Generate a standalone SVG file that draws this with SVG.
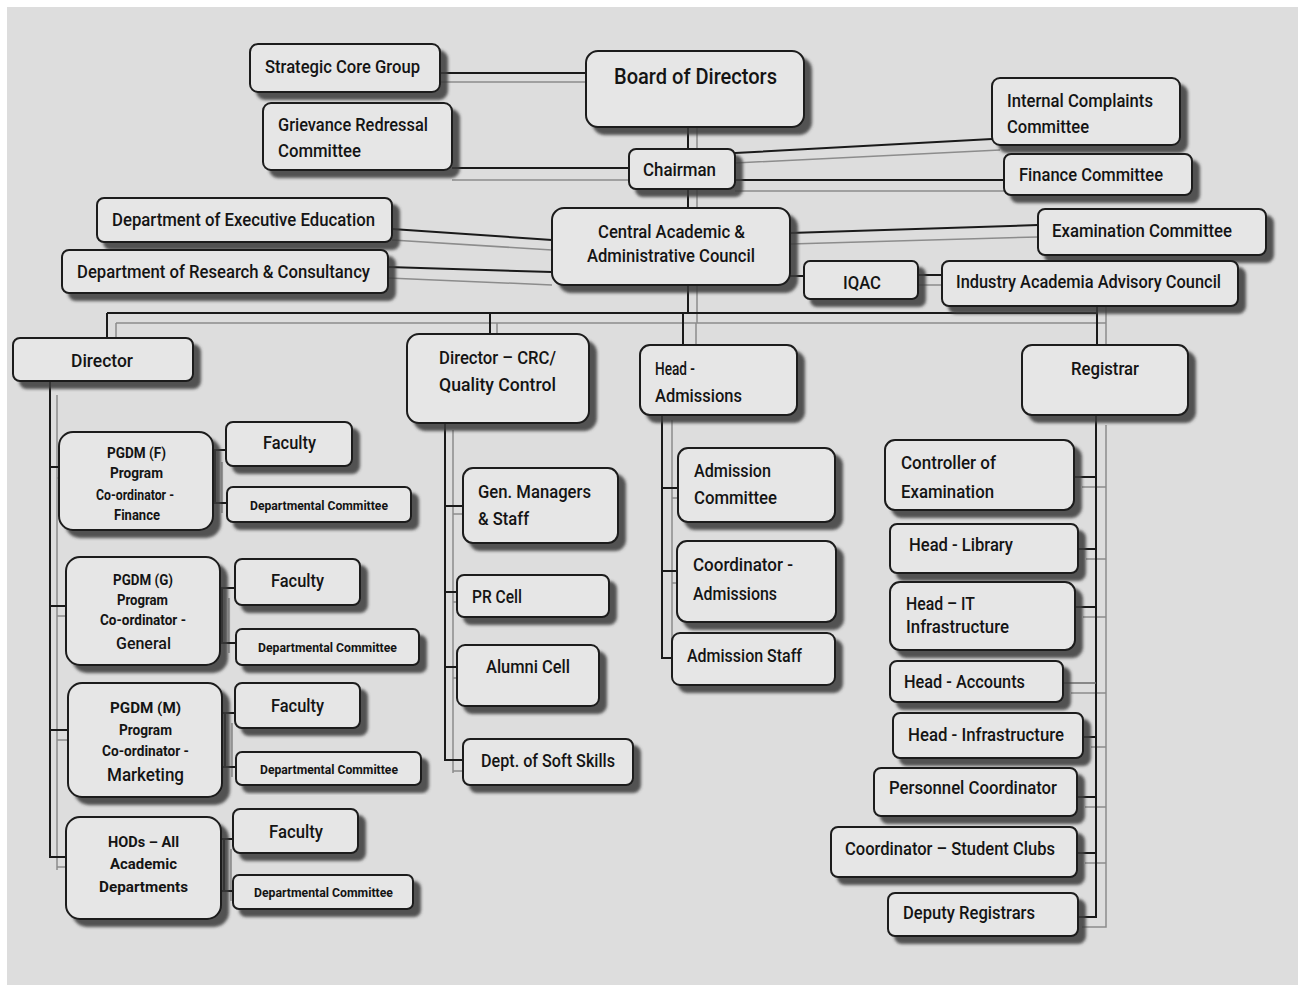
<svg xmlns="http://www.w3.org/2000/svg" width="1302" height="989" viewBox="0 0 1302 989">
<defs>
<filter id="sh" x="-10%" y="-10%" width="130%" height="140%">
<feDropShadow dx="7" dy="7" stdDeviation="1.8" flood-color="#3a3a3a" flood-opacity="0.85"/>
</filter>
<style>
.box{fill:#e6e6e6;stroke:#1c1c1c;stroke-width:2;filter:url(#sh)}
.t{font-family:Roboto,"Liberation Sans",sans-serif;font-size:18px;fill:#141414;font-weight:500}
.b{font-size:22px}
.s{font-size:14px;font-weight:700}
.d{font-size:13px;font-weight:700}
.ln{fill:none;stroke:#1a1a1a;stroke-width:2}
.gl{fill:none;stroke:#8c8c8c;stroke-width:1.5}
</style>
</defs>
<rect x="0" y="0" width="1302" height="989" fill="#ffffff"/>
<rect x="7" y="7" width="1291" height="978" fill="#dddddd"/>

<g id="connectors">
<path class="gl" d="M440,82 H586 M452,180 H629 M697,127 V149 M697,189 V208 M697,285 V323 M735,163 L1000,150 M735,191 H1004 M392,240 L552,250 M388,278 L552,285 M790,244 L1038,237 M918,285 H942"/>
<path class="gl" d="M116,323 H1106 M116,323 V338 M497,323 V345 M696,323 V355 M1106,306 V355"/>
<path class="gl" d="M57,395 V870 M57,478 H70 M57,616 H78 M57,740 H80 M57,867 H78"/>
<path class="gl" d="M453,430 V773 M453,514 H470 M453,602 H465 M453,678 H465 M453,771 H470"/>
<path class="gl" d="M672,420 V670 M672,498 H690 M672,583 H688 M672,670 H688"/>
<path class="gl" d="M1106,425 V927 H1082 M1082,487 H1106 M1086,559 H1106 M1083,617 H1106 M1071,693 H1106 M1091,747 H1106 M1085,807 H1106 M1085,863 H1106"/>
<path class="gl" d="M222,462 V513 M229,598 V653 M232,723 V777 M231,849 V901"/>

<path class="ln" d="M440,73 H586 M452,168 H629 M688,127 V149 M688,189 V208 M688,285 V313 M735,153 L992,139 M735,180 L1004,180 M392,229 L552,240 M388,267 L552,272 M790,233 L1038,225 M790,276 H804 M918,275 H942"/>
<path class="ln" d="M107,313 H1097 M107,313 V338 M490,313 V334 M683,313 V345 M1097,306 V345"/>
<path class="ln" d="M50,381 V857 H66 M50,467 H59 M50,606 H66 M50,730 H68"/>
<path class="ln" d="M215,450 V503 M213,450 H226 M213,503 H227 M222,588 V643 M220,588 H235 M220,643 H236 M225,713 V767 M222,713 H235 M222,767 H236 M224,839 V891 M221,839 H233 M221,891 H233"/>
<path class="ln" d="M445,423 V760 H463 M445,506 H463 M445,592 H457 M445,667 H457"/>
<path class="ln" d="M662,415 V658 H672 M662,488 H678 M662,571 H677"/>
<path class="ln" d="M1096,415 V917 H1078 M1074,477 H1096 M1078,549 H1096 M1075,607 H1096 M1083,737 H1096 M1077,797 H1096 M1077,853 H1096"/>
<path fill="none" stroke="#6a6a6a" stroke-width="1.5" d="M1063,683 H1096"/>
</g>

<g id="strategic-core-group"><rect class="box" x="250" y="44" width="190" height="48" rx="8"/><text class="t" x="265" y="73" textLength="155" lengthAdjust="spacingAndGlyphs">Strategic Core Group</text></g>
<g id="grievance-redressal-committee"><rect class="box" x="263" y="103" width="189" height="67" rx="8"/><text class="t" x="278" y="131" textLength="150" lengthAdjust="spacingAndGlyphs">Grievance Redressal</text><text class="t" x="278" y="157" textLength="83" lengthAdjust="spacingAndGlyphs">Committee</text></g>
<g id="board-of-directors"><rect class="box" x="586" y="51" width="218" height="76" rx="12"/><text class="t b" x="614" y="84" textLength="163" lengthAdjust="spacingAndGlyphs">Board of Directors</text></g>
<g id="chairman"><rect class="box" x="629" y="149" width="106" height="40" rx="7"/><text class="t" x="643" y="176" textLength="73" lengthAdjust="spacingAndGlyphs">Chairman</text></g>
<g id="central-council"><rect class="box" x="552" y="208" width="238" height="77" rx="12"/><text class="t" x="598" y="238" textLength="147" lengthAdjust="spacingAndGlyphs">Central Academic &amp;</text><text class="t" x="587" y="262" textLength="168" lengthAdjust="spacingAndGlyphs">Administrative Council</text></g>
<g id="dept-executive-education"><rect class="box" x="97" y="198" width="295" height="44" rx="7"/><text class="t" x="112" y="226" textLength="263" lengthAdjust="spacingAndGlyphs">Department of Executive Education</text></g>
<g id="dept-research-consultancy"><rect class="box" x="62" y="250" width="326" height="43" rx="7"/><text class="t" x="77" y="278" textLength="293" lengthAdjust="spacingAndGlyphs">Department of Research &amp; Consultancy</text></g>
<g id="iqac"><rect class="box" x="804" y="261" width="114" height="38" rx="6"/><text class="t" x="843" y="289" textLength="38" lengthAdjust="spacingAndGlyphs">IQAC</text></g>
<g id="internal-complaints-committee"><rect class="box" x="992" y="78" width="188" height="67" rx="8"/><text class="t" x="1007" y="107" textLength="146" lengthAdjust="spacingAndGlyphs">Internal Complaints</text><text class="t" x="1007" y="133" textLength="82" lengthAdjust="spacingAndGlyphs">Committee</text></g>
<g id="finance-committee"><rect class="box" x="1004" y="154" width="188" height="41" rx="7"/><text class="t" x="1019" y="181" textLength="144" lengthAdjust="spacingAndGlyphs">Finance Committee</text></g>
<g id="examination-committee"><rect class="box" x="1038" y="209" width="228" height="46" rx="7"/><text class="t" x="1052" y="237" textLength="180" lengthAdjust="spacingAndGlyphs">Examination Committee</text></g>
<g id="industry-academia-advisory-council"><rect class="box" x="942" y="261" width="296" height="45" rx="7"/><text class="t" x="956" y="288" textLength="265" lengthAdjust="spacingAndGlyphs">Industry Academia Advisory Council</text></g>

<g id="director"><rect class="box" x="13" y="338" width="180" height="43" rx="7"/><text class="t" x="71" y="367" textLength="62" lengthAdjust="spacingAndGlyphs">Director</text></g>
<g id="director-crc"><rect class="box" x="407" y="334" width="182" height="89" rx="12"/><text class="t" x="439" y="364" textLength="117" lengthAdjust="spacingAndGlyphs">Director – CRC/</text><text class="t" x="439" y="391" textLength="117" lengthAdjust="spacingAndGlyphs">Quality Control</text></g>
<g id="head-admissions"><rect class="box" x="640" y="345" width="157" height="70" rx="10"/><text class="t" x="655" y="375" textLength="40" lengthAdjust="spacingAndGlyphs">Head -</text><text class="t" x="655" y="402" textLength="87" lengthAdjust="spacingAndGlyphs">Admissions</text></g>
<g id="registrar"><rect class="box" x="1022" y="345" width="166" height="70" rx="10"/><text class="t" x="1071" y="375" textLength="68" lengthAdjust="spacingAndGlyphs">Registrar</text></g>

<g id="pgdm-f"><rect class="box" x="59" y="432" width="154" height="98" rx="14"/><text class="t s" x="107" y="458" textLength="59" lengthAdjust="spacingAndGlyphs">PGDM (F)</text><text class="t s" x="110" y="478" textLength="53" lengthAdjust="spacingAndGlyphs">Program</text><text class="t s" x="96" y="500" textLength="78" lengthAdjust="spacingAndGlyphs">Co-ordinator -</text><text class="t s" x="114" y="520" textLength="46" lengthAdjust="spacingAndGlyphs">Finance</text></g>
<g id="faculty-f"><rect class="box" x="226" y="422" width="126" height="44" rx="7"/><text class="t" x="263" y="449" textLength="53" lengthAdjust="spacingAndGlyphs">Faculty</text></g>
<g id="dept-committee-f"><rect class="box" x="227" y="487" width="184" height="35" rx="6"/><text class="t d" x="250" y="510" textLength="138" lengthAdjust="spacingAndGlyphs">Departmental Committee</text></g>

<g id="pgdm-g"><rect class="box" x="66" y="557" width="154" height="108" rx="14"/><text class="t s" x="113" y="585" textLength="60" lengthAdjust="spacingAndGlyphs">PGDM (G)</text><text class="t s" x="117" y="605" textLength="51" lengthAdjust="spacingAndGlyphs">Program</text><text class="t s" x="100" y="625" textLength="86" lengthAdjust="spacingAndGlyphs">Co-ordinator -</text><text class="t" style="font-size:16px" x="116" y="649" textLength="55" lengthAdjust="spacingAndGlyphs">General</text></g>
<g id="faculty-g"><rect class="box" x="235" y="559" width="125" height="46" rx="7"/><text class="t" x="271" y="587" textLength="53" lengthAdjust="spacingAndGlyphs">Faculty</text></g>
<g id="dept-committee-g"><rect class="box" x="236" y="629" width="183" height="36" rx="6"/><text class="t d" x="258" y="652" textLength="139" lengthAdjust="spacingAndGlyphs">Departmental Committee</text></g>

<g id="pgdm-m"><rect class="box" x="68" y="683" width="154" height="114" rx="14"/><text class="t s" x="110" y="713" textLength="71" lengthAdjust="spacingAndGlyphs">PGDM (M)</text><text class="t s" x="119" y="735" textLength="53" lengthAdjust="spacingAndGlyphs">Program</text><text class="t s" x="102" y="756" textLength="87" lengthAdjust="spacingAndGlyphs">Co-ordinator -</text><text class="t" style="font-size:18px" x="107" y="781" textLength="77" lengthAdjust="spacingAndGlyphs">Marketing</text></g>
<g id="faculty-m"><rect class="box" x="235" y="683" width="125" height="45" rx="7"/><text class="t" x="271" y="712" textLength="53" lengthAdjust="spacingAndGlyphs">Faculty</text></g>
<g id="dept-committee-m"><rect class="box" x="236" y="752" width="185" height="33" rx="6"/><text class="t d" x="260" y="774" textLength="138" lengthAdjust="spacingAndGlyphs">Departmental Committee</text></g>

<g id="hods"><rect class="box" x="66" y="817" width="155" height="102" rx="14"/><text class="t s" x="108" y="847" textLength="71" lengthAdjust="spacingAndGlyphs">HODs – All</text><text class="t s" x="110" y="869" textLength="67" lengthAdjust="spacingAndGlyphs">Academic</text><text class="t s" x="99" y="892" textLength="89" lengthAdjust="spacingAndGlyphs">Departments</text></g>
<g id="faculty-h"><rect class="box" x="233" y="809" width="125" height="44" rx="7"/><text class="t" x="269" y="838" textLength="54" lengthAdjust="spacingAndGlyphs">Faculty</text></g>
<g id="dept-committee-h"><rect class="box" x="233" y="875" width="180" height="34" rx="6"/><text class="t d" x="254" y="897" textLength="139" lengthAdjust="spacingAndGlyphs">Departmental Committee</text></g>

<g id="gen-managers"><rect class="box" x="463" y="468" width="155" height="75" rx="10"/><text class="t" x="478" y="498" textLength="113" lengthAdjust="spacingAndGlyphs">Gen. Managers</text><text class="t" x="478" y="525" textLength="51" lengthAdjust="spacingAndGlyphs">&amp; Staff</text></g>
<g id="pr-cell"><rect class="box" x="457" y="575" width="152" height="42" rx="7"/><text class="t" x="472" y="603" textLength="50" lengthAdjust="spacingAndGlyphs">PR Cell</text></g>
<g id="alumni-cell"><rect class="box" x="457" y="645" width="142" height="61" rx="8"/><text class="t" x="486" y="673" textLength="84" lengthAdjust="spacingAndGlyphs">Alumni Cell</text></g>
<g id="soft-skills"><rect class="box" x="463" y="739" width="170" height="46" rx="7"/><text class="t" x="481" y="767" textLength="134" lengthAdjust="spacingAndGlyphs">Dept. of Soft Skills</text></g>

<g id="admission-committee"><rect class="box" x="678" y="448" width="157" height="74" rx="10"/><text class="t" x="694" y="477" textLength="77" lengthAdjust="spacingAndGlyphs">Admission</text><text class="t" x="694" y="504" textLength="83" lengthAdjust="spacingAndGlyphs">Committee</text></g>
<g id="coordinator-admissions"><rect class="box" x="677" y="541" width="159" height="81" rx="10"/><text class="t" x="693" y="571" textLength="100" lengthAdjust="spacingAndGlyphs">Coordinator -</text><text class="t" x="693" y="600" textLength="84" lengthAdjust="spacingAndGlyphs">Admissions</text></g>
<g id="admission-staff"><rect class="box" x="672" y="633" width="163" height="52" rx="8"/><text class="t" x="687" y="662" textLength="115" lengthAdjust="spacingAndGlyphs">Admission Staff</text></g>

<g id="controller-examination"><rect class="box" x="885" y="440" width="189" height="70" rx="10"/><text class="t" x="901" y="469" textLength="95" lengthAdjust="spacingAndGlyphs">Controller of</text><text class="t" x="901" y="498" textLength="93" lengthAdjust="spacingAndGlyphs">Examination</text></g>
<g id="head-library"><rect class="box" x="890" y="524" width="188" height="49" rx="7"/><text class="t" x="909" y="551" textLength="104" lengthAdjust="spacingAndGlyphs">Head - Library</text></g>
<g id="head-it"><rect class="box" x="890" y="582" width="185" height="68" rx="10"/><text class="t" x="906" y="610" textLength="69" lengthAdjust="spacingAndGlyphs">Head – IT</text><text class="t" x="906" y="633" textLength="103" lengthAdjust="spacingAndGlyphs">Infrastructure</text></g>
<g id="head-accounts"><rect class="box" x="890" y="661" width="173" height="41" rx="7"/><text class="t" x="904" y="688" textLength="121" lengthAdjust="spacingAndGlyphs">Head - Accounts</text></g>
<g id="head-infrastructure"><rect class="box" x="893" y="713" width="190" height="45" rx="7"/><text class="t" x="908" y="741" textLength="156" lengthAdjust="spacingAndGlyphs">Head - Infrastructure</text></g>
<g id="personnel-coordinator"><rect class="box" x="874" y="768" width="203" height="48" rx="7"/><text class="t" x="889" y="794" textLength="168" lengthAdjust="spacingAndGlyphs">Personnel Coordinator</text></g>
<g id="coordinator-student-clubs"><rect class="box" x="831" y="827" width="246" height="50" rx="7"/><text class="t" x="845" y="855" textLength="210" lengthAdjust="spacingAndGlyphs">Coordinator – Student Clubs</text></g>
<g id="deputy-registrars"><rect class="box" x="888" y="893" width="190" height="43" rx="7"/><text class="t" x="903" y="919" textLength="132" lengthAdjust="spacingAndGlyphs">Deputy Registrars</text></g>
</svg>
